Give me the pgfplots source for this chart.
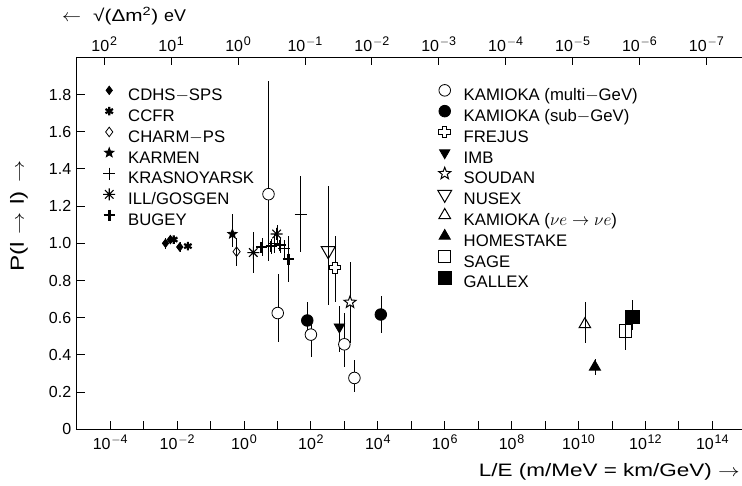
\documentclass[border=0pt]{standalone}
\usepackage{fontspec}
\setmainfont{Liberation Sans}
\usepackage{pgfplots}
\pgfplotsset{compat=1.18}
\usetikzlibrary{plotmarks}

\pgfdeclareplotmark{ocross}{%
 \pgfpathmoveto{\pgfpoint{-0.36\pgfplotmarksize}{\pgfplotmarksize}}%
 \pgfpathlineto{\pgfpoint{0.36\pgfplotmarksize}{\pgfplotmarksize}}%
 \pgfpathlineto{\pgfpoint{0.36\pgfplotmarksize}{0.36\pgfplotmarksize}}%
 \pgfpathlineto{\pgfpoint{\pgfplotmarksize}{0.36\pgfplotmarksize}}%
 \pgfpathlineto{\pgfpoint{\pgfplotmarksize}{-0.36\pgfplotmarksize}}%
 \pgfpathlineto{\pgfpoint{0.36\pgfplotmarksize}{-0.36\pgfplotmarksize}}%
 \pgfpathlineto{\pgfpoint{0.36\pgfplotmarksize}{-\pgfplotmarksize}}%
 \pgfpathlineto{\pgfpoint{-0.36\pgfplotmarksize}{-\pgfplotmarksize}}%
 \pgfpathlineto{\pgfpoint{-0.36\pgfplotmarksize}{-0.36\pgfplotmarksize}}%
 \pgfpathlineto{\pgfpoint{-\pgfplotmarksize}{-0.36\pgfplotmarksize}}%
 \pgfpathlineto{\pgfpoint{-\pgfplotmarksize}{0.36\pgfplotmarksize}}%
 \pgfpathlineto{\pgfpoint{-0.36\pgfplotmarksize}{0.36\pgfplotmarksize}}%
 \pgfpathclose\pgfusepathqfillstroke}

\pgfdeclareplotmark{ast8}{%
 \pgfpathmoveto{\pgfpoint{-\pgfplotmarksize}{0pt}}\pgfpathlineto{\pgfpoint{\pgfplotmarksize}{0pt}}%
 \pgfpathmoveto{\pgfpoint{0pt}{-\pgfplotmarksize}}\pgfpathlineto{\pgfpoint{0pt}{\pgfplotmarksize}}%
 \pgfpathmoveto{\pgfpoint{-0.707\pgfplotmarksize}{-0.707\pgfplotmarksize}}\pgfpathlineto{\pgfpoint{0.707\pgfplotmarksize}{0.707\pgfplotmarksize}}%
 \pgfpathmoveto{\pgfpoint{-0.707\pgfplotmarksize}{0.707\pgfplotmarksize}}\pgfpathlineto{\pgfpoint{0.707\pgfplotmarksize}{-0.707\pgfplotmarksize}}%
 \pgfusepathqstroke}

\pgfdeclareplotmark{fstar}{%
 \pgfpathmoveto{\pgfpointpolar{90}{\pgfplotmarksize}}%
 \pgfpathlineto{\pgfpointpolar{126}{0.42\pgfplotmarksize}}%
 \pgfpathlineto{\pgfpointpolar{162}{\pgfplotmarksize}}%
 \pgfpathlineto{\pgfpointpolar{198}{0.42\pgfplotmarksize}}%
 \pgfpathlineto{\pgfpointpolar{234}{\pgfplotmarksize}}%
 \pgfpathlineto{\pgfpointpolar{270}{0.42\pgfplotmarksize}}%
 \pgfpathlineto{\pgfpointpolar{306}{\pgfplotmarksize}}%
 \pgfpathlineto{\pgfpointpolar{342}{0.42\pgfplotmarksize}}%
 \pgfpathlineto{\pgfpointpolar{18}{\pgfplotmarksize}}%
 \pgfpathlineto{\pgfpointpolar{54}{0.42\pgfplotmarksize}}%
 \pgfpathclose\pgfusepathqfillstroke}

\newcommand\tp[1]{10\kern0.8pt\raisebox{6pt}{\fontsize{12.5}{13}\selectfont #1}}
\newcommand\lfont{\fontsize{16.7}{19}\selectfont}

\pgfplotsset{
  every axis plot/.append style={black, line width=0.8pt},
}

\begin{document}
\fontsize{16}{19}\selectfont
\begin{tikzpicture}
\path[use as bounding box] (0,0) rectangle (742pt,486pt);

\begin{axis}[
  at={(76.75pt,56.7pt)}, anchor=south west, scale only axis,
  width=669pt, height=372pt,
  xmode=log, xmin=1e-5, xmax=1e15, ymin=0, ymax=2,
  xminorticks=false, yminorticks=false,
  tick align=inside, major tick length=8pt,
  major tick style={line width=0.8pt, black},
  axis line style={line width=1.2pt},
  tick label style={font=\fontsize{16}{19}\selectfont},
  legend cell align=left,
  legend image code/.code={\path[use as bounding box, draw=none, fill=none] (-8pt,0pt) rectangle (19pt,11.4pt); \draw[#1] plot coordinates {(0pt,5.7pt)};},
  legend style={draw=none, fill=none, at={(axis description cs:0.0363,0.927)}, anchor=north west,
    inner sep=0pt, row sep=0pt, column sep=0pt, font=\lfont,
    nodes={inner xsep=0pt, inner ysep=0pt, text height=14pt, text depth=4.8pt}},
  xtick pos=left, ytick pos=left,
  xtick={1e-4,1e-3,1e-2,1e-1,1,1e1,1e2,1e3,1e4,1e5,1e6,1e7,1e8,1e9,1e10,1e11,1e12,1e13,1e14},
  xticklabels={\tp{$-$4},,\tp{$-$2},,\tp{0},,\tp{2},,\tp{4},,\tp{6},,\tp{8},,\tp{10},,\tp{12},,\tp{14}},
  ytick={0,0.2,0.4,0.6,0.8,1.0,1.2,1.4,1.6,1.8},
  yticklabels={0,0.2,0.4,0.6,0.8,1.0,1.2,1.4,1.6,1.8},
  error bars/y dir=both, error bars/y explicit, error bars/error mark=none,
]
% CDHS-SPS
\addplot[only marks, mark=diamond*, mark size=4.2, mark options={fill=black}]
 table[x=x,y=y,y error plus=ep,y error minus=em]{
x y ep em
4.5e-3 1.00 0.03 0.03
6.3e-3 1.02 0.02 0.02
1.2e-2 0.98 0.025 0.025
};
\addlegendentry{CDHS$-$SPS}
% CCFR
\addplot[only marks, mark=asterisk, mark size=4.3, mark options={line width=2.2pt}]
 table[x=x,y=y,y error plus=ep,y error minus=em]{
x y ep em
7.9e-3 1.02 0.02 0.02
2.1e-2 0.985 0.02 0.02
};
\addlegendentry{CCFR}
% CHARM-PS
\addplot[only marks, mark=diamond, mark size=4.8, mark options={fill=white}]
 table[x=x,y=y,y error plus=ep,y error minus=em]{
x y ep em
0.60 0.955 0.075 0.075
};
\addlegendentry{CHARM$-$PS}
% KARMEN
\addplot[only marks, mark=fstar, mark size=5, mark options={fill=black}]
 table[x=x,y=y,y error plus=ep,y error minus=em]{
x y ep em
0.45 1.05 0.11 0.07
};
\addlegendentry{KARMEN}
% KRASNOYARSK
\addplot[only marks, mark=+, mark size=6]
 table[x=x,y=y,y error plus=ep,y error minus=em]{
x y ep em
8 1.00 0.05 0.05
16 0.97 0.05 0.05
49 1.157 0.205 0.205
};
\addlegendentry{KRASNOYARSK}
% ILL/GOSGEN
\addplot[only marks, mark=ast8, mark size=6, mark options={line width=1.1pt}]
 table[x=x,y=y,y error plus=ep,y error minus=em]{
x y ep em
1.9 0.95 0.11 0.11
9.5 1.05 0.05 0.05
};
\addlegendentry{ILL/GOSGEN}
% BUGEY
\addplot[only marks, mark=+, mark size=5.5, mark options={line width=2.6pt}]
 table[x=x,y=y,y error plus=ep,y error minus=em]{
x y ep em
3.4 0.98 0.05 0.05
6.5 0.985 0.04 0.04
12 0.99 0.04 0.04
21 0.915 0.125 0.125
};
\addlegendentry{BUGEY}
\end{axis}

\begin{axis}[
  at={(76.75pt,56.7pt)}, anchor=south west, scale only axis,
  width=669pt, height=372pt,
  xmode=log, xmin=1e-5, xmax=1e15, ymin=0, ymax=2,
  xminorticks=false, yminorticks=false,
  tick align=inside, major tick length=8pt,
  major tick style={line width=0.8pt, black},
  tick label style={font=\fontsize{16}{19}\selectfont},
  hide y axis, axis line style={draw=none},
  legend cell align=left,
  legend image code/.code={\path[use as bounding box, draw=none, fill=none] (-8pt,0pt) rectangle (19pt,11.4pt); \draw[#1] plot coordinates {(0pt,5.7pt)};},
  legend style={draw=none, fill=none, at={(axis description cs:0.5378,0.927)}, anchor=north west,
    inner sep=0pt, row sep=0pt, column sep=0pt, font=\lfont,
    nodes={inner xsep=0pt, inner ysep=0pt, text height=14pt, text depth=4.8pt}},
  xtick pos=right, xticklabel pos=right,
  xtick={6.64e-5,6.64e-3,0.664,66.4,6.64e3,6.64e5,6.64e7,6.64e9,6.64e11,6.64e13},
  xticklabels={\tp{2},\tp{1},\tp{0},\tp{$-$1},\tp{$-$2},\tp{$-$3},\tp{$-$4},\tp{$-$5},\tp{$-$6},\tp{$-$7}},
  error bars/y dir=both, error bars/y explicit, error bars/error mark=none,
]
% KAMIOKA multi-GeV
\addplot[only marks, mark=*, mark size=5.8, mark options={fill=white}]
 table[x=x,y=y,y error plus=ep,y error minus=em]{
x y ep em
5.4 1.264 0.607 0.358
10.2 0.625 0.21 0.156
100 0.509 0.09 0.12
1000 0.457 0.17 0.12
2000 0.276 0.095 0.075
};
\addlegendentry{KAMIOKA (multi$-$GeV)}
% KAMIOKA sub-GeV
\addplot[only marks, mark=*, mark size=5.8, mark options={fill=black}]
 table[x=x,y=y,y error plus=ep,y error minus=em]{
x y ep em
78 0.585 0.10 0.08
1.23e4 0.617 0.10 0.10
};
\addlegendentry{KAMIOKA (sub$-$GeV)}
% FREJUS
\addplot[only marks, mark=ocross, mark size=5.8, mark options={fill=white, line width=1pt}]
 table[x=x,y=y,y error plus=ep,y error minus=em]{
x y ep em
525 0.868 0.17 0.185
};
\addlegendentry{FREJUS}
% IMB
\addplot[only marks, mark=triangle*, mark size=6, mark options={fill=black, rotate=180}]
 table[x=x,y=y,y error plus=ep,y error minus=em]{
x y ep em
710 0.55 0.115 0.135
};
\addlegendentry{IMB}
% SOUDAN
\addplot[only marks, mark=fstar, mark size=6.3, mark options={fill=white, line width=1pt}]
 table[x=x,y=y,y error plus=ep,y error minus=em]{
x y ep em
1480 0.683 0.215 0.22
};
\addlegendentry{SOUDAN}
% NUSEX
\addplot[only marks, mark=triangle, mark size=8, mark options={fill=white, rotate=180, line width=1pt}]
 table[x=x,y=y,y error plus=ep,y error minus=em]{
x y ep em
330 0.96 0.35 0.29
};
\addlegendentry{NUSEX}
% KAMIOKA nu_e
\addplot[only marks, mark=triangle, mark size=6.7, mark options={fill=white, line width=1pt}]
 table[x=x,y=y,y error plus=ep,y error minus=em]{
x y ep em
1.55e10 0.564 0.12 0.10
};
\addlegendentry{KAMIOKA ($\nu e \rightarrow \nu e$)}
% HOMESTAKE
\addplot[only marks, mark=triangle*, mark size=6.5, mark options={fill=black}]
 table[x=x,y=y,y error plus=ep,y error minus=em]{
x y ep em
3.1e10 0.335 0.045 0.045
};
\addlegendentry{HOMESTAKE}
% SAGE
\addplot[only marks, mark=square, mark size=6.2, mark options={fill=white, line width=1pt}]
 table[x=x,y=y,y error plus=ep,y error minus=em]{
x y ep em
2.57e11 0.528 0.04 0.10
};
\addlegendentry{SAGE}
% GALLEX
\addplot[only marks, mark=square*, mark size=6.6, mark options={fill=black}]
 table[x=x,y=y,y error plus=ep,y error minus=em]{
x y ep em
4.07e11 0.603 0.093 0.07
};
\addlegendentry{GALLEX}
\end{axis}

\node[rotate=90] at (19pt,270pt) {\fontsize{19}{21}\selectfont\scalebox{1.28}[1]{P(l\hspace{6pt}$\rightarrow$\hspace{6pt}l)\hspace{7pt}$\rightarrow$}};
\node[anchor=west, inner sep=0pt] at (62pt,470pt) {\fontsize{17}{20}\selectfont\scalebox{1.1}[1]{$\leftarrow$}\hspace{12pt}\scalebox{1.22}[1]{√(Δm\textsuperscript{2})}\hspace{6pt}\scalebox{1.05}[1]{eV}};
\node[anchor=east, inner sep=0pt] at (740pt,14pt) {\fontsize{18}{20}\selectfont\scalebox{1.25}[1]{L/E (m/MeV = km/GeV) $\rightarrow$}};
\end{tikzpicture}
\end{document}
